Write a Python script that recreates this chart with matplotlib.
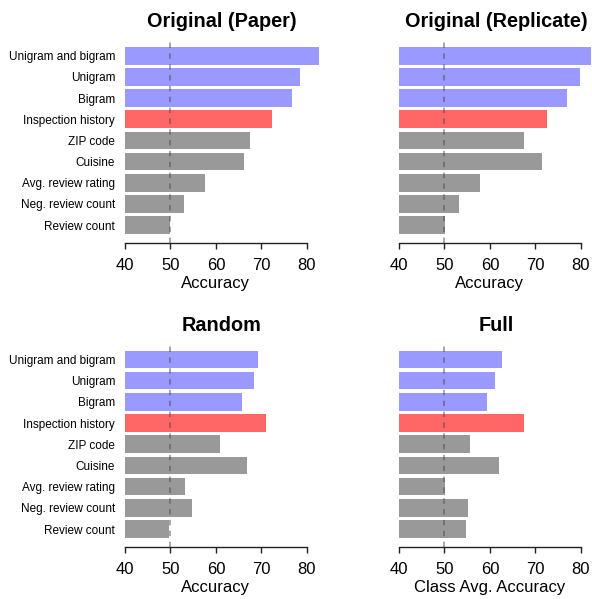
import numpy as np
import matplotlib
matplotlib.use("Agg")
import matplotlib.pyplot as plt

plt.rcParams['font.family'] = ['Liberation Sans', 'DejaVu Sans']

# features, top to bottom
features = ["Unigram and bigram", "Unigram", "Bigram", "Inspection history",
            "ZIP code", "Cuisine", "Avg. review rating", "Neg. review count",
            "Review count"]
bar_colors = ["#9999FF", "#9999FF", "#9999FF", "#FF6666",
              "#999999", "#999999", "#999999", "#999999", "#999999"]

paper = [82.7, 78.5, 76.8, 72.4, 67.5, 66.2, 57.6, 53.0, 50.0]
replicate = [82.2, 79.9, 77.0, 72.6, 67.5, 71.5, 57.8, 53.2, 50.2]
random_split = [69.3, 68.4, 65.8, 71.1, 60.9, 66.9, 53.2, 54.8, 49.7]
full = [62.7, 61.1, 59.4, 67.5, 55.6, 62.0, 50.1, 55.2, 54.8]

titles = ["Original (Paper)", "Original (Replicate)", "Random", "Full"]
xlabels = ["Accuracy", "Accuracy", "Accuracy", "Class Avg. Accuracy"]
panels = [paper, replicate, random_split, full]

# axes positions in figure fractions (left, bottom, width, height)
positions = [
    [0.2111, 0.5948, 0.3074, 0.3417],
    [0.6740, 0.5948, 0.3070, 0.3417],
    [0.2111, 0.0873, 0.3074, 0.3422],
    [0.6740, 0.0873, 0.3070, 0.3422],
]

fig = plt.figure(figsize=(5.92, 5.99), dpi=100)

n = len(features)
ypos = np.arange(n)[::-1] * 1.2  # first feature on top
base = 40

for i in range(4):
    ax = fig.add_axes(positions[i])
    vals = np.array(panels[i])
    ax.barh(ypos, vals - base, left=base, height=1.0, color=bar_colors,
            clip_on=False, zorder=1)
    ax.set_xlim(40, 80)
    ax.set_ylim(-1.0, 10.6)
    ax.axvline(50, color="#444444", alpha=0.5, lw=1.3, dashes=(3, 3), zorder=3)

    for s in ["top", "right", "left"]:
        ax.spines[s].set_visible(False)
    ax.spines["bottom"].set_bounds(40, 80)
    ax.spines["bottom"].set_color("#222222")
    ax.spines["bottom"].set_linewidth(1.0)

    ax.set_xticks([40, 50, 60, 70, 80])
    ax.tick_params(axis="x", length=4, width=1.0, color="#222222",
                   labelsize=12, pad=7)
    if i % 2 == 0:
        ax.set_yticks(ypos)
        ax.set_yticklabels(features, fontsize=8.5)
        ax.tick_params(axis="y", length=0, pad=7)
    else:
        ax.set_yticks([])

    ax.set_xlabel(xlabels[i], fontsize=12, labelpad=2.5)
    ax.set_title(titles[i], fontsize=14.3, fontweight="bold", x=0.533, pad=8)

fig.savefig("out.png", dpi=100)
